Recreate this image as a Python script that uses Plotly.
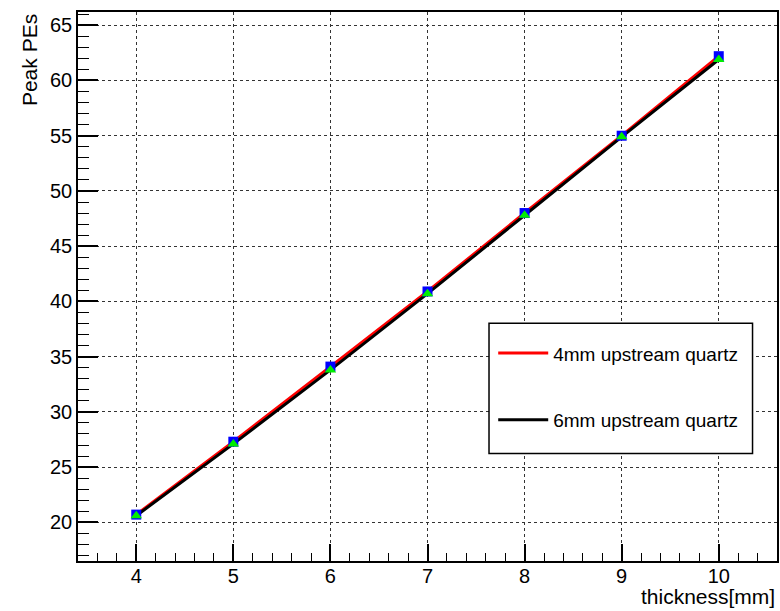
import plotly.graph_objects as go

thickness = [4, 5, 6, 7, 8, 9, 10]
pe_4mm = [20.7, 27.3, 34.1, 40.9, 48.0, 55.0, 62.2]
pe_6mm = [20.6, 27.1, 33.8, 40.7, 47.8, 54.9, 61.9]
names = ["4mm upstream quartz", "6mm upstream quartz"]

FONT = "Liberation Sans, Arial, Helvetica, sans-serif"

fig = go.Figure()
fig.add_trace(go.Scatter(x=thickness, y=pe_4mm, mode="lines", name=names[0],
                         line=dict(color="#ff0000", width=3), legendgroup="a"))
fig.add_trace(go.Scatter(x=thickness, y=pe_6mm, mode="lines", name=names[1],
                         line=dict(color="#000000", width=3), legendgroup="b"))
fig.add_trace(go.Scatter(x=thickness, y=pe_4mm, mode="markers", showlegend=False,
                         marker=dict(symbol="square", color="#0000ff", size=10, line=dict(width=0))))
fig.add_trace(go.Scatter(x=thickness, y=pe_6mm, mode="markers", showlegend=False,
                         marker=dict(symbol="triangle-up", color="#00ee00", size=10, line=dict(width=0))))

axis_common = dict(
    showline=True, linecolor="black", linewidth=1.5, mirror=True,
    ticks="inside", tickcolor="black", tickwidth=1.5,
    showgrid=True, gridcolor="#333333", gridwidth=1, griddash="dot",
    zeroline=False, automargin=False,
    tickfont=dict(family=FONT, size=20, color="black"),
)

fig.update_xaxes(range=[3.4, 10.6], dtick=1, tick0=0, ticklen=17, ticklabelstandoff=-4,
                 minor=dict(ticks="inside", dtick=0.2, ticklen=8, tickcolor="black", tickwidth=1.2, showgrid=False),
                 **axis_common)
fig.update_yaxes(range=[16.5, 66.2], dtick=5, tick0=0, ticklen=20,
                 minor=dict(ticks="inside", dtick=1, ticklen=11, tickcolor="black", tickwidth=1.2, showgrid=False),
                 **axis_common)

fig.add_shape(type="rect", xref="paper", yref="paper", x0=0.588, x1=0.965, y0=0.196, y1=0.433,
              line=dict(color="black", width=1.5), fillcolor="white", layer="above")

fig.update_layout(
    width=780, height=611,
    margin=dict(l=78, r=3, t=12, b=50),
    paper_bgcolor="white", plot_bgcolor="white",
    showlegend=True,
    legend=dict(x=0.594, y=0.413, xanchor="left", yanchor="top",
                bgcolor="rgba(0,0,0,0)", borderwidth=0,
                font=dict(family=FONT, size=19, color="black"),
                tracegroupgap=39, itemwidth=50),
    annotations=[
        dict(text="Peak PEs", xref="paper", yref="paper", x=-0.07, y=1.0,
             xanchor="center", yanchor="top", textangle=-90, showarrow=False,
             font=dict(family=FONT, size=21, color="black")),
        dict(text="thickness[mm]", xref="paper", yref="paper", x=1.0, y=-0.089,
             xanchor="right", yanchor="bottom", showarrow=False,
             font=dict(family=FONT, size=21, color="black")),
    ],
)

fig.write_html("out.html", config={"displayModeBar": False},
               post_script="document.body.style.margin='0';document.body.style.overflow='hidden';")
